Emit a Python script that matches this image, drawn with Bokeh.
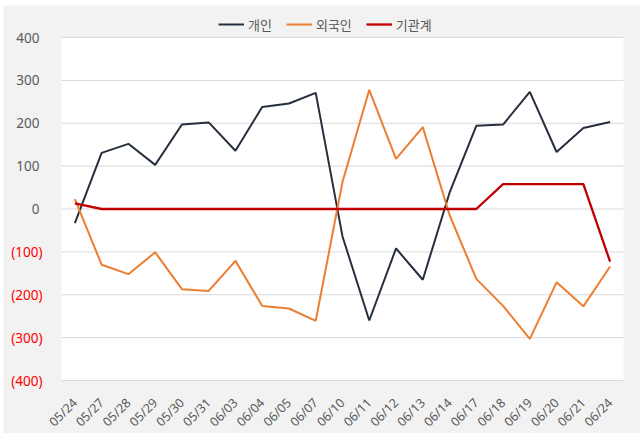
from bokeh.plotting import figure
from bokeh.models import (Range1d, Legend, LegendItem, LinearAxis, FixedTicker)
from bokeh.embed import file_html
from bokeh.resources import INLINE
import math

dates = ["05/24", "05/27", "05/28", "05/29", "05/30", "05/31", "06/03", "06/04",
         "06/05", "06/07", "06/10", "06/11", "06/12", "06/13", "06/14", "06/17",
         "06/18", "06/19", "06/20", "06/21", "06/24"]
indiv = [-33, 131, 152, 103, 197, 202, 136, 238, 246, 271, -64, -260, -92, -165,
         38, 194, 197, 273, 133, 189, 203]
foreign = [23, -130, -152, -101, -187, -191, -121, -226, -232, -261, 63, 278, 117,
           191, -14, -163, -226, -303, -171, -227, -134]
inst = [13, 0, 0, 0, 0, 0, 0, 0, 0, 0, 0, 0, 0, 0, 0, 0, 58, 58, 58, 58, -123]
series_names = ["개인", "외국인", "기관계"]
y_ticks = [-400, -300, -200, -100, 0, 100, 200, 300, 400]
y_labels = ["(400)", "(300)", "(200)", "(100)", "0", "100", "200", "300", "400"]

FONT = "Noto Sans CJK KR"
NFONT = "Noto Sans"
GREY = "#595959"

# layout constants (pixels inside the figure)
W, H = 637, 428
PL, PR, PT, PB = 58, 620, 32, 375          # plot-area box
n = len(dates)
xs = list(range(n))
x_lo, x_hi = -0.5, n - 0.5
y_lo, y_hi = min(y_ticks), max(y_ticks)
kx = (PR - PL) / (x_hi - x_lo)
ky = (PB - PT) / (y_hi - y_lo)
x_range = Range1d(x_lo - PL / kx, x_hi + (W - PR) / kx)
y_range = Range1d(y_lo - (H - PB) / ky, y_hi + PT / ky)

p = figure(width=W, height=H, x_range=x_range, y_range=y_range,
           output_backend="svg", toolbar_location=None, x_axis_location=None,
           y_axis_location=None, min_border=0, margin=(5, 0, 0, 3))
p.background_fill_color = "#f2f2f2"
p.border_fill_color = "#f2f2f2"
p.outline_line_color = None
p.grid.visible = False

# plot area and horizontal grid
p.quad(left=x_lo, right=x_hi, bottom=y_lo, top=y_hi, fill_color="white", line_color=None)
p.segment(x0=[x_lo] * len(y_ticks), x1=[x_hi] * len(y_ticks), y0=y_ticks, y1=y_ticks,
          line_color="#d9d9d9", line_width=1)

r1 = p.line(xs, indiv, line_color="#262f3d", line_width=2)
r2 = p.line(xs, foreign, line_color="#ed7d31", line_width=2)
r3 = p.line(xs, inst, line_color="#c00000", line_width=2.3)


def style_axis(ax, color, size, standoff):
    ax.axis_line_color = None
    ax.major_tick_line_color = None
    ax.minor_tick_line_color = None
    ax.major_label_standoff = standoff
    ax.major_label_text_color = color
    ax.major_label_text_font = NFONT
    ax.major_label_text_font_size = size


# y axis, positive labels (grey)
ya = LinearAxis(fixed_location=x_lo, ticker=FixedTicker(ticks=y_ticks),
                major_label_overrides={t: (l if t >= 0 else "") for t, l in zip(y_ticks, y_labels)})
style_axis(ya, GREY, "13.5px", 16)
p.add_layout(ya, "left")

# y axis, negative labels (red)
yb = LinearAxis(fixed_location=x_lo, ticker=FixedTicker(ticks=y_ticks),
                major_label_overrides={t: (l if t < 0 else "") for t, l in zip(y_ticks, y_labels)})
style_axis(yb, "#ff0000", "13.5px", 13)
p.add_layout(yb, "left")

# x axis
xa = LinearAxis(fixed_location=y_lo, ticker=FixedTicker(ticks=xs),
                major_label_overrides={i: d for i, d in zip(xs, dates)})
style_axis(xa, GREY, "12.5px", 14)
xa.major_label_orientation = math.pi / 4
p.add_layout(xa, "below")

legend = Legend(items=[LegendItem(label=series_names[0], renderers=[r1]),
                       LegendItem(label=series_names[1], renderers=[r2]),
                       LegendItem(label=series_names[2], renderers=[r3])],
                orientation="horizontal", location=(215, H - 29),
                background_fill_alpha=0, border_line_color=None,
                label_text_font=FONT, label_text_font_size="13px",
                label_text_color=GREY, glyph_width=26, label_standoff=4,
                spacing=14, padding=2, margin=0)
p.add_layout(legend)

open("out.html", "w").write(file_html(p, INLINE))
